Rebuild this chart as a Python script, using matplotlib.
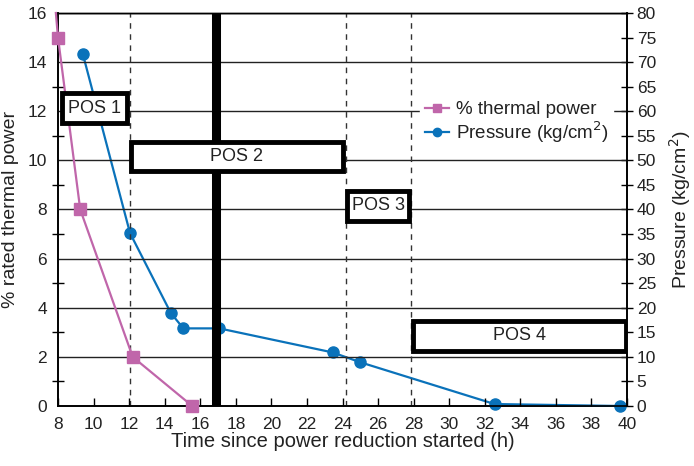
import matplotlib
matplotlib.use("Agg")
import matplotlib.pyplot as plt
import matplotlib.patches as patches
from matplotlib.ticker import MultipleLocator

plt.rcParams['font.family'] = ['Liberation Sans', 'DejaVu Sans']

# data
power_time = [7.88, 8.0, 9.25, 12.2, 15.55]
power_pct = [16.0, 15, 8, 2, 0]

pressure_time = [9.4, 12.05, 14.35, 15.05, 17.07, 23.45, 25.0, 32.55, 39.6]
pressure_val = [71.6, 35.2, 18.9, 15.8, 15.8, 10.9, 8.9, 0.4, 0.0]

dashed_times = [12.05, 24.2, 27.85]
thick_time = 16.9

# position boxes: label, x left, x right, y centre (left axis units)
pos_labels = ['POS 1', 'POS 2', 'POS 3', 'POS 4']
pos_x0 = [8.2, 12.1, 24.25, 27.95]
pos_x1 = [11.9, 24.0, 27.75, 39.95]
pos_y = [12.13, 10.15, 8.15, 2.85]

PINK = '#C066AA'
BLUE = '#0A72BA'
TXT = '#222222'

fig = plt.figure(figsize=(6.94, 4.66), dpi=100)
ax = fig.add_axes([58 / 694, 1 - 406 / 466, 569 / 694, 393 / 466])
ax2 = ax.twinx()

ax.set_xlim(8, 40)
ax.set_ylim(0, 16)
ax2.set_ylim(0, 80)

# horizontal grid
for y in range(2, 17, 2):
    ax.axhline(y, color=TXT, lw=1.0, zorder=1)

for t in dashed_times:
    ax.axvline(t, color='#333333', lw=1.0, ls=(0, (4, 4)), zorder=1)
ax.axvline(thick_time, color='black', lw=6.5, zorder=2)

# markers drawn unclipped so edge points show whole
ax.plot(power_time, power_pct, color=PINK, lw=1.6, zorder=4, clip_on=False)
ax.plot(power_time[1:], power_pct[1:], ls='none', color=PINK, marker='s',
        ms=8, zorder=4, clip_on=False)
ax2.plot(pressure_time, pressure_val, color=BLUE, lw=1.6, marker='o',
         ms=8, zorder=4, clip_on=False)

for lab, x0, x1, yc in zip(pos_labels, pos_x0, pos_x1, pos_y):
    h = 1.2
    rect = patches.Rectangle((x0, yc - h / 2), x1 - x0, h, facecolor='white',
                             edgecolor='black', lw=3.5, zorder=6)
    ax.add_patch(rect)
    ax.text((x0 + x1) / 2, yc, lab, ha='center', va='center', fontsize=13,
            color=TXT, zorder=7)

ax.set_zorder(ax2.get_zorder() + 1)
ax.patch.set_visible(False)

# ticks
ax.xaxis.set_major_locator(MultipleLocator(2))
ax.yaxis.set_major_locator(MultipleLocator(2))
ax.yaxis.set_minor_locator(MultipleLocator(1))
ax2.yaxis.set_major_locator(MultipleLocator(5))
ax.tick_params(axis='x', direction='in', length=6, width=1, labelsize=12.5,
               pad=8, labelcolor=TXT)
ax.tick_params(axis='y', which='major', length=0, labelsize=12.5, pad=8,
               labelcolor=TXT)
ax.tick_params(axis='y', which='minor', direction='inout', length=8, width=1)
ax2.tick_params(axis='y', which='major', direction='inout', length=8, width=1,
                labelsize=12.5, pad=3, labelcolor=TXT)

for a in (ax, ax2):
    for s in a.spines.values():
        s.set_linewidth(1.2)
        s.set_color('black')
    a.spines['top'].set_linewidth(1.0)

ax.set_xlabel('Time since power reduction started (h)', fontsize=14.5,
              color=TXT, labelpad=0)
ax.set_ylabel('% rated thermal power', fontsize=14, color=TXT, labelpad=6)
ax2.set_ylabel('Pressure (kg/cm$^2$)', fontsize=14, color=TXT, labelpad=8)

leg_handles = [
    plt.Line2D([], [], color=PINK, lw=1.6, marker='s', ms=6),
    plt.Line2D([], [], color=BLUE, lw=1.6, marker='o', ms=6),
]
leg = ax.legend(leg_handles, ['% thermal power', 'Pressure (kg/cm$^2$)'],
                loc='center left', bbox_to_anchor=(0.62, 0.72), frameon=True,
                fontsize=13.5, handlelength=1.3, handletextpad=0.35,
                labelspacing=0.05, borderpad=0.25)
leg.get_frame().set_edgecolor('white')
leg.get_frame().set_facecolor('white')
leg.get_frame().set_alpha(1)
leg.set_zorder(8)
for t in leg.get_texts():
    t.set_color(TXT)

fig.savefig('out.png', dpi=100)
